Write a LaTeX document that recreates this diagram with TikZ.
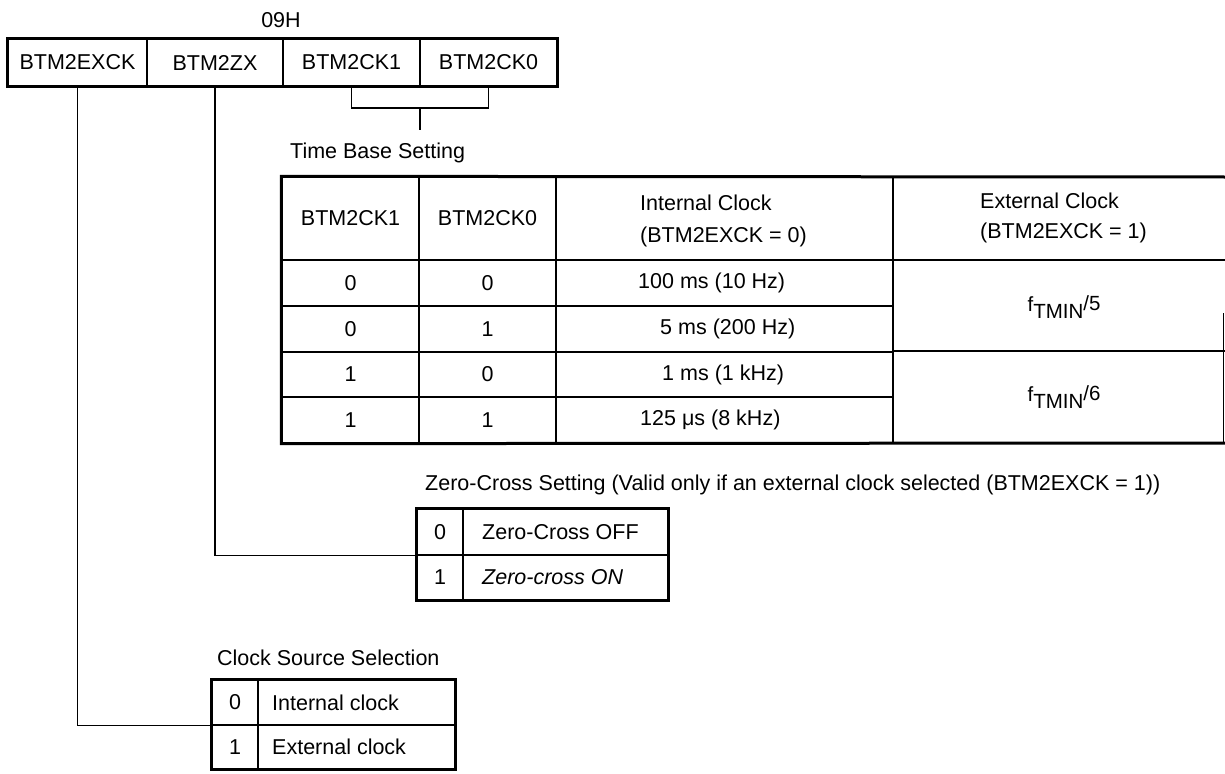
\documentclass[tikz,border=0pt]{standalone}
\usepackage{fontspec}
\setmainfont{Liberation Sans}
\begin{document}
\begin{tikzpicture}[x=1pt,y=-1pt,
  thinline/.style={line width=1.3pt},
  thickline/.style={line width=3pt},
  conn/.style={line width=1.3pt},
  txt/.style={inner sep=0pt, font=\fontsize{21.5}{25}\selectfont},
  cellbox/.style={draw, line width=1.3pt, inner sep=0pt, font=\fontsize{21.5}{25}\selectfont}]
\useasboundingbox (0,0) rectangle (1225,773);

% ---------- register 09H ----------
\node[txt] (addr) at (281,20) {09H};
\node[cellbox, minimum width=139pt, minimum height=47pt] (exck) at (77.5,62.5) {BTM2EXCK};
\node[cellbox, minimum width=136pt, minimum height=47pt] (zx)   at (215,62.5)  {BTM2ZX};
\node[cellbox, minimum width=137pt, minimum height=47pt] (ck1)  at (351.5,62.5) {BTM2CK1};
\node[cellbox, minimum width=137pt, minimum height=47pt] (ck0)  at (488.5,62.5) {BTM2CK0};
\draw[thickline] (exck.north west) rectangle (ck0.south east);

% bracket for CK1/CK0
\coordinate (brk) at (420,108);
\coordinate (brkend) at (420,130);
\draw[conn] (ck1.south) |- (brk) -| (ck0.south);
\draw[conn] (brk) -- (brkend);

% ---------- Time base setting table ----------
\node[txt, anchor=west] (tbtitle) at (290,153) {Time Base Setting};

% header cells
\node[cellbox, minimum width=137pt, minimum height=83pt] (h1) at (350.5,218.5) {BTM2CK1};
\node[cellbox, minimum width=137pt, minimum height=83pt] (h2) at (487.5,218.5) {BTM2CK0};
\node[cellbox, minimum width=337pt, minimum height=83pt] (h3) at (724.5,218.5) {};
\node[txt, anchor=west, align=left, font=\fontsize{21.5}{32}\selectfont] (h3t) at (640,221) {Internal Clock\\(BTM2EXCK = 0)};
\node[txt, anchor=west, align=left, font=\fontsize{21.5}{30}\selectfont] (h4t) at (980,218) {External Clock\\(BTM2EXCK = 1)};

% data rows col 1-3
\node[cellbox, minimum width=137pt, minimum height=46pt] (a1) at (350.5,283) {0};
\node[cellbox, minimum width=137pt, minimum height=46pt] (b1) at (487.5,283) {0};
\node[cellbox, minimum width=337pt, minimum height=46pt] (c1) at (724.5,283) {};
\node[txt, anchor=west] (c1t) at (638,283) {100 ms (10 Hz)};

\node[cellbox, minimum width=137pt, minimum height=46pt] (a2) at (350.5,329) {0};
\node[cellbox, minimum width=137pt, minimum height=46pt] (b2) at (487.5,329) {1};
\node[cellbox, minimum width=337pt, minimum height=46pt] (c2) at (724.5,329) {};
\node[txt, anchor=west] (c2t) at (660,329) {5 ms (200 Hz)};

\node[cellbox, minimum width=137pt, minimum height=45pt] (a3) at (350.5,374.5) {1};
\node[cellbox, minimum width=137pt, minimum height=45pt] (b3) at (487.5,374.5) {0};
\node[cellbox, minimum width=337pt, minimum height=45pt] (c3) at (724.5,374.5) {};
\node[txt, anchor=west] (c3t) at (662,374.5) {1 ms (1 kHz)};

\node[cellbox, minimum width=137pt, minimum height=46pt] (a4) at (350.5,420) {1};
\node[cellbox, minimum width=137pt, minimum height=46pt] (b4) at (487.5,420) {1};
\node[cellbox, minimum width=337pt, minimum height=46pt] (c4) at (724.5,420) {};
\node[txt, anchor=west] (c4t) at (640,420) {125 μs (8 kHz)};

% column 4 (external clock), cut at the right edge
\draw[thinline] (893,260) -- (1225,260);
\draw[thinline] (893,351) -- (1225,351);
\draw[thinline] (1223.5,313) -- (1223.5,443);
\node[txt] (f5) at (1064,307) {\fontsize{20.5}{22}\selectfont f\raisebox{-7pt}{TMIN}\raisebox{1pt}{/5}};
\node[txt] (f6) at (1064,397) {\fontsize{20.5}{22}\selectfont f\raisebox{-7pt}{TMIN}\raisebox{1pt}{/6}};

% outer border of the table
\draw[thickline] (1225,177) -- (h1.north west) -- (a4.south west) -- (1225,443);

% ---------- Zero-cross setting ----------
\node[txt, anchor=west] (zxtitle) at (425,485) {Zero-Cross Setting (Valid only if an external clock selected (BTM2EXCK = 1))};
\node[cellbox, minimum width=46pt,  minimum height=46pt] (zx0)   at (440,532)    {0};
\node[cellbox, minimum width=205pt, minimum height=46pt] (zxoff) at (565.5,532)  {};
\node[cellbox, minimum width=46pt,  minimum height=45pt] (zx1)   at (440,577.5)  {1};
\node[cellbox, minimum width=205pt, minimum height=45pt] (zxon)  at (565.5,577.5) {};
\node[txt, anchor=west] (zxofft) at (482,532) {Zero-Cross OFF};
\node[txt, anchor=west] (zxont)  at (482,577.5) {\itshape Zero-cross ON};
\draw[thickline] (zx0.north west) rectangle (zxon.south east);

% ---------- Clock source selection ----------
\node[txt, anchor=west] (cstitle) at (217,658) {Clock Source Selection};
\node[cellbox, minimum width=46pt,  minimum height=45pt] (cs0)   at (235,702.5)  {0};
\node[cellbox, minimum width=197pt, minimum height=45pt] (csint) at (356.5,702.5) {};
\node[cellbox, minimum width=46pt,  minimum height=44pt] (cs1)   at (235,747)    {1};
\node[cellbox, minimum width=197pt, minimum height=44pt] (csext) at (356.5,747)  {};
\node[txt, anchor=west] (csintt) at (272,702.5) {Internal clock};
\node[txt, anchor=west] (csextt) at (272,747) {External clock};
\draw[thickline] (cs0.north west) rectangle (csext.south east);

% ---------- connectors ----------
\draw[conn] (zx.south) |- (zx0.south west);
\draw[conn] (exck.south) |- (cs0.south west);
\end{tikzpicture}
\end{document}
